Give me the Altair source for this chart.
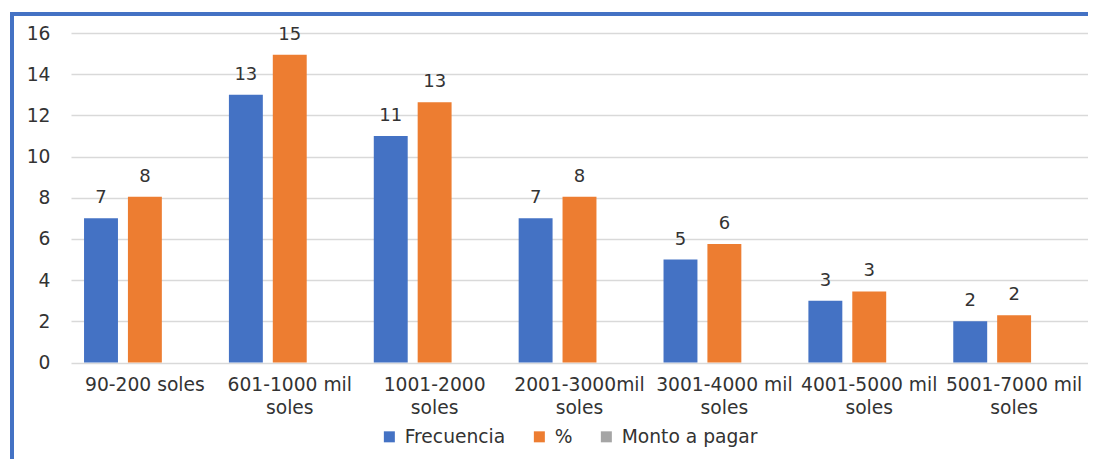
import altair as alt
import pandas as pd

categories = [
    "90-200 soles",
    "601-1000 mil|soles",
    "1001-2000|soles",
    "2001-3000mil|soles",
    "3001-4000 mil|soles",
    "4001-5000 mil|soles",
    "5001-7000 mil|soles",
]
frecuencia = [7, 13, 11, 7, 5, 3, 2]
porcentaje = [8.05, 14.94, 12.64, 8.05, 5.75, 3.45, 2.30]
series = ["Frecuencia", "%", "Monto a pagar"]
colors = ["#4472C4", "#ED7D31", "#A5A5A5"]
y_ticks = [0, 2, 4, 6, 8, 10, 12, 14, 16]

rows = []
for c, f, p in zip(categories, frecuencia, porcentaje):
    rows.append({"cat": c, "serie": "Frecuencia", "valor": f})
    rows.append({"cat": c, "serie": "%", "valor": p})
df = pd.DataFrame(rows)

FONT = "DejaVu Sans"
TXT = "#333333"
FS = 18.7

x = alt.X("cat:N", sort=categories, title=None,
          scale=alt.Scale(paddingInner=0.16, paddingOuter=0.09),
          axis=alt.Axis(labelAngle=0, labelExpr="split(datum.label, '|')",
                        labelFontSize=FS, labelFont=FONT, labelColor=TXT,
                        labelPadding=13, labelLineHeight=23, ticks=False,
                        domain=False, labelLimit=200))
xo = alt.XOffset("serie:N", sort=series,
                 scale=alt.Scale(domain=series, paddingInner=0.227, paddingOuter=0))
y = alt.Y("valor:Q", title=None,
          scale=alt.Scale(domain=[0, 16], nice=False),
          axis=alt.Axis(values=y_ticks, labelFontSize=FS, labelFont=FONT,
                        labelColor=TXT, labelPadding=21, ticks=False, domain=False,
                        gridColor="#d9d9d9", gridWidth=1.5))
color = alt.Color("serie:N", title=None,
                  scale=alt.Scale(domain=series, range=colors),
                  legend=alt.Legend(orient="none", direction="horizontal",
                                    legendX=309, legendY=394, padding=0,
                                    symbolType="square", symbolSize=121,
                                    symbolStrokeWidth=0, labelFont=FONT,
                                    labelFontSize=FS, labelColor=TXT,
                                    labelOffset=6, columnPadding=24))

bars = alt.Chart(df).mark_bar().encode(x=x, xOffset=xo, y=y, color=color)
labels = alt.Chart(df).mark_text(baseline="bottom", dy=-11, font=FONT,
                                 fontSize=18, color=TXT).encode(
    x=alt.X("cat:N", sort=categories), xOffset=xo, y="valor:Q",
    text=alt.Text("valor:Q", format=".0f"))

border_df = pd.DataFrame({"k": [0]})
left_border = alt.Chart(border_df).mark_rule(color="#4472C4", strokeWidth=4).encode(
    x=alt.value(-59), y=alt.value(-21), y2=alt.value(470))
top_border = alt.Chart(border_df).mark_rule(color="#4472C4", strokeWidth=4).encode(
    y=alt.value(-19), x=alt.value(-61), x2=alt.value(1040))

chart = alt.layer(bars, labels, left_border, top_border).properties(
    width=1017, height=329.5,
    autosize=alt.AutoSizeParams(type="none"),
    padding={"left": 63, "top": 25, "right": 0, "bottom": 96},
).configure_view(stroke=None)

chart.save("out.html", embed_options={"renderer": "svg", "actions": False})
